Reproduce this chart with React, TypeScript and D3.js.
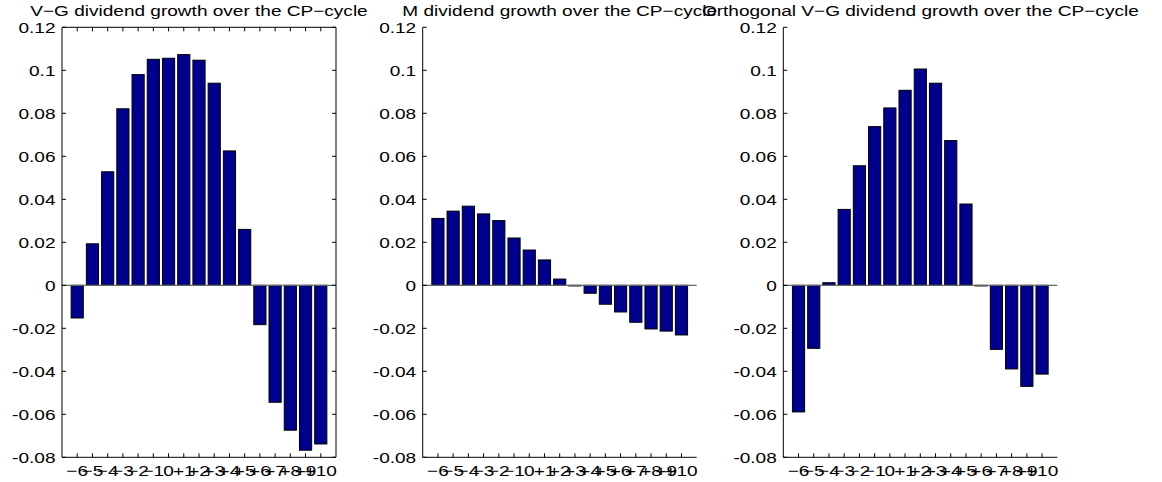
import React from "react";
import * as d3 from "d3";

const categories = ["−6", "−5", "−4", "−3", "−2", "−1", "0", "+1", "+2", "+3", "+4", "+5", "+6", "+7", "+8", "+9", "+10"];

const titles = [
  "V−G dividend growth over the CP−cycle",
  "M dividend growth over the CP−cycle",
  "Orthogonal V−G dividend growth over the CP−cycle",
];

const vgValues = [-0.0152, 0.0193, 0.0528, 0.0821, 0.098, 0.1051, 0.1056, 0.1073, 0.1047, 0.094, 0.0625, 0.026, -0.0183, -0.0544, -0.0674, -0.0767, -0.0738];
const mValues = [0.0311, 0.0345, 0.0368, 0.0332, 0.0301, 0.022, 0.0164, 0.0118, 0.0029, -0.0003, -0.0037, -0.0088, -0.0124, -0.0172, -0.0203, -0.0213, -0.0231];
const orthValues = [-0.0589, -0.0293, 0.0012, 0.0353, 0.0556, 0.0738, 0.0825, 0.0907, 0.1006, 0.094, 0.0673, 0.0378, -0.0003, -0.0298, -0.0389, -0.047, -0.0413];

const yTicks = [0.12, 0.1, 0.08, 0.06, 0.04, 0.02, 0, -0.02, -0.04, -0.06, -0.08];
const yTickLabels = ["0.12", "0.1", "0.08", "0.06", "0.04", "0.02", "0", "-0.02", "-0.04", "-0.06", "-0.08"];

const panels = [
  { values: vgValues, title: titles[0], left: 62, box: true },
  { values: mValues, title: titles[1], left: 422.7, box: false },
  { values: orthValues, title: titles[2], left: 783.3, box: false },
];

const W = 274;
const TOP = 27.3;
const BOTTOM = 457.3;
const FONT = "'Liberation Sans', Arial, Helvetica, sans-serif";
const FS = 15;
const SX = 1.27;
const TICK = 4;

function Panel({ values, title, left, box }: { values: number[]; title: string; left: number; box: boolean }) {
  const x = d3.scaleLinear().domain([0, categories.length + 1]).range([left, left + W]);
  const y = d3.scaleLinear().domain([-0.08, 0.12]).range([BOTTOM, TOP]);
  const bw = x(0.8) - x(0);
  const right = left + W;
  return (
    <g>
      <text
        transform={`translate(${left + W / 2},15.7) scale(${SX},1)`}
        textAnchor="middle"
        fontFamily={FONT}
        fontSize={FS}
        fill="#000"
      >
        {title}
      </text>
      {values.map((v, i) => {
        const cx = x(i + 1);
        const y0 = y(0);
        const yv = y(v);
        return (
          <rect
            key={i}
            x={cx - bw / 2}
            y={Math.min(y0, yv)}
            width={bw}
            height={Math.max(Math.abs(yv - y0), 0.6)}
            fill="#00008f"
            stroke="#000"
            strokeWidth={1}
          />
        );
      })}
      <line x1={left} x2={right} y1={y(0)} y2={y(0)} stroke="#666" strokeWidth={1.2} />
      {/* spines */}
      <line x1={left} x2={left} y1={TOP} y2={BOTTOM} stroke="#000" strokeWidth={1} />
      <line x1={left} x2={right} y1={BOTTOM} y2={BOTTOM} stroke="#000" strokeWidth={1} />
      {box && <line x1={left} x2={right} y1={TOP} y2={TOP} stroke="#000" strokeWidth={1} />}
      {box && <line x1={right} x2={right} y1={TOP} y2={BOTTOM} stroke="#000" strokeWidth={1} />}
      {/* y ticks */}
      {yTicks.map((t, i) => (
        <g key={"y" + i}>
          <line x1={left} x2={left + TICK} y1={y(t)} y2={y(t)} stroke="#000" strokeWidth={1} />
          {box && <line x1={right} x2={right - TICK} y1={y(t)} y2={y(t)} stroke="#000" strokeWidth={1} />}
          <text
            transform={`translate(${left - 6.5},${y(t) + 6}) scale(${SX},1)`}
            textAnchor="end"
            fontFamily={FONT}
            fontSize={FS}
            fill="#000"
          >
            {yTickLabels[i]}
          </text>
        </g>
      ))}
      {/* x ticks */}
      {categories.map((c, i) => (
        <g key={"x" + i}>
          <line x1={x(i + 1)} x2={x(i + 1)} y1={BOTTOM} y2={BOTTOM - TICK} stroke="#000" strokeWidth={1} />
          {box && <line x1={x(i + 1)} x2={x(i + 1)} y1={TOP} y2={TOP + TICK} stroke="#000" strokeWidth={1} />}
          <text
            transform={`translate(${x(i + 1)},476) scale(${SX},1)`}
            textAnchor="middle"
            fontFamily={FONT}
            fontSize={FS}
            fill="#000"
          >
            {c}
          </text>
        </g>
      ))}
    </g>
  );
}

export default function App() {
  return (
    <svg
      width={1162}
      height={482}
      style={{ position: "absolute", left: 0, top: 0, background: "#fff" }}
    >
      <rect x={0} y={0} width={1162} height={482} fill="#fff" />
      {panels.map((p, i) => (
        <Panel key={i} values={p.values} title={p.title} left={p.left} box={p.box} />
      ))}
    </svg>
  );
}
